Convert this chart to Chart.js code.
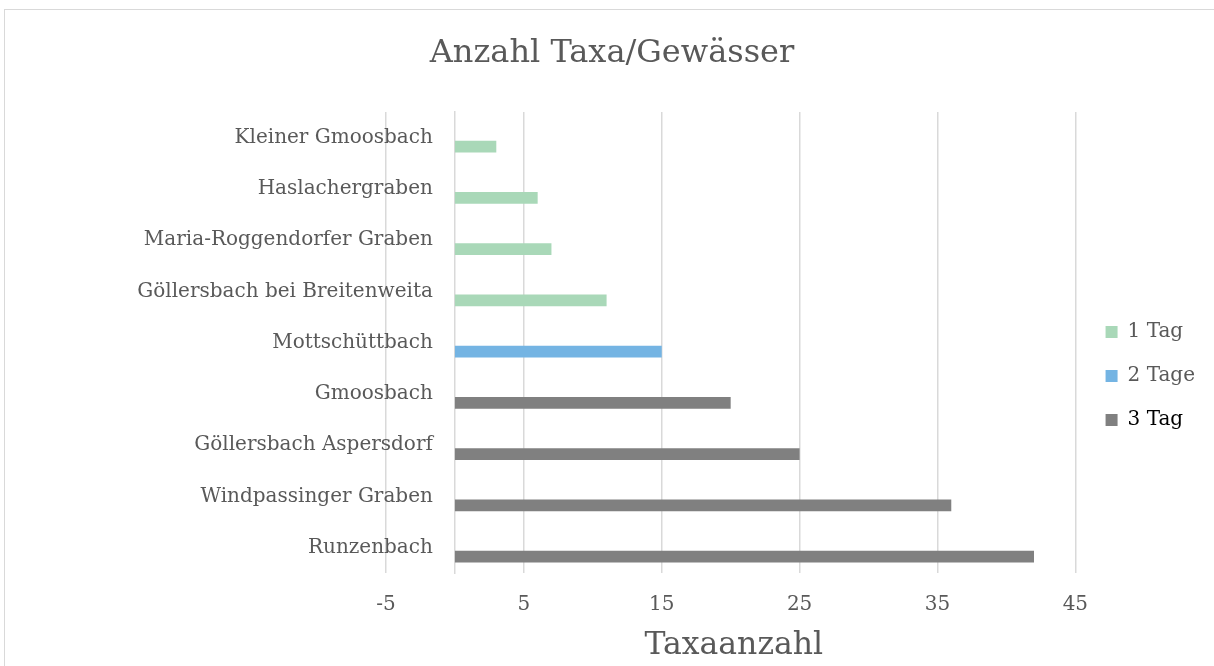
<!DOCTYPE html>
<html><head><meta charset="utf-8">
<script src="https://cdn.jsdelivr.net/npm/chart.js@4.4.0/dist/chart.umd.min.js"></script>
<style>
html,body{margin:0;padding:0;background:#fff;overflow:hidden}
#wrap{position:relative;width:1214px;height:666px}
#frame{position:absolute;left:4px;top:9px;width:1300px;height:800px;border:1px solid #d9d9d9;box-sizing:border-box}
canvas{position:absolute;left:0;top:0}
</style></head><body>
<div id="wrap"><div id="frame"></div><canvas id="c" width="1214" height="666"></canvas></div>
<script>
const categories = ['Kleiner Gmoosbach','Haslachergraben','Maria-Roggendorfer Graben','Göllersbach bei Breitenweita','Mottschüttbach','Gmoosbach','Göllersbach Aspersdorf','Windpassinger Graben','Runzenbach'];
const series1Tag  = [3, 6, 7, 11, null, null, null, null, null];
const series2Tage = [null, null, null, null, 15, null, null, null, null];
const series3Tag  = [null, null, null, null, null, 20, 25, 36, 42];
const seriesNames = ['1 Tag', '2 Tage', '3 Tag'];
const seriesColors = ['#a9d8b8', '#74b4e3', '#808080'];
const xTickValues = [-5, 5, 15, 25, 35, 45];
const chartTitle = 'Anzahl Taxa/Gewässer';
const xTitle = 'Taxaanzahl';

const FONT = "'DejaVu Serif', serif";
const GREY = '#595959';
const padNull = categories.map(() => null);

const barCommon = { categoryPercentage: 0.705, barPercentage: 0.66, borderWidth: 0, stack: 'real' };

new Chart(document.getElementById('c'), {
  type: 'bar',
  data: {
    labels: categories,
    datasets: [
      { label: '_pad', data: padNull, stack: 'pad', categoryPercentage: 0.705, barPercentage: 0.66, backgroundColor: 'rgba(0,0,0,0)' },
      Object.assign({ label: seriesNames[0], data: series1Tag, backgroundColor: seriesColors[0] }, barCommon),
      Object.assign({ label: seriesNames[1], data: series2Tage, backgroundColor: seriesColors[1] }, barCommon),
      Object.assign({ label: seriesNames[2], data: series3Tag, backgroundColor: seriesColors[2] }, barCommon)
    ]
  },
  options: {
    indexAxis: 'y',
    responsive: false,
    animation: false,
    devicePixelRatio: 1,
    layout: { padding: { left: 19, right: 9, top: 0, bottom: 0 } },
    scales: {
      x: {
        type: 'linear', min: -5, max: 45.45,
        afterBuildTicks: s => { s.ticks = xTickValues.map(v => ({ value: v })); },
        grid: { color: '#d9d9d9', lineWidth: 1.5, drawTicks: false },
        border: { display: false },
        ticks: { font: { family: FONT, size: 20 }, color: GREY, padding: 20 },
        title: { display: true, text: xTitle, font: { family: FONT, size: 31.5 }, color: GREY, padding: { top: -10, bottom: 1 } }
      },
      yPad: {
        axis: 'y', type: 'category', position: 'left',
        grid: { display: false }, border: { display: false }, ticks: { display: false },
        afterFit: s => { s.width = 367; }
      },
      y: {
        position: { x: -1.6 },
        grid: { display: false, drawTicks: false },
        border: { display: false },
        ticks: { font: { family: FONT, size: 20 }, color: GREY }
      },
      yLine: {
        axis: 'y', type: 'category', position: { x: 0 },
        grid: { display: true, drawOnChartArea: false, drawTicks: false },
        border: { display: true, color: '#d9d9d9', width: 1.5 },
        ticks: { display: false }
      }
    },
    plugins: {
      title: { display: true, text: chartTitle, font: { family: FONT, size: 32, weight: 'normal' }, color: GREY, padding: { top: 34, bottom: 39.6 } },
      tooltip: { enabled: false },
      legend: {
        position: 'right', align: 'center',
        title: { display: true, text: '', font: { size: 10 }, padding: { top: 74, bottom: 0 } },
        labels: {
          boxWidth: 12, boxHeight: 12, padding: 24,
          font: { family: FONT, size: 20 }, color: GREY,
          filter: item => item.text !== '_pad',
          generateLabels: chart => Chart.defaults.plugins.legend.labels.generateLabels(chart).map(it => {
            it.fontColor = it.text === '3 Tag' ? '#000' : GREY; return it;
          })
        }
      }
    }
  }
});
</script>
</body></html>
